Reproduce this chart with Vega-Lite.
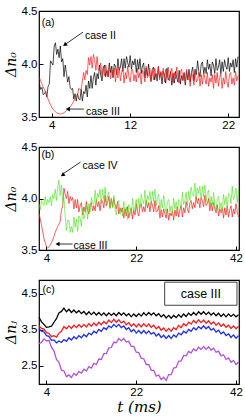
{
  "$schema": "https://vega.github.io/schema/vega-lite/v6.json",
  "background": "white",
  "padding": {"left": 3, "top": 4, "right": 5, "bottom": 2},
  "bounds": "flush",
  "spacing": 30,
  "config": {
    "view": {"stroke": "black", "strokeWidth": 1.2},
    "axis": {"grid": false, "domain": false, "labelFont": "Liberation Sans", "labelFontSize": 11.5, "labelColor": "black", "tickColor": "black", "tickSize": -4, "labelPadding": 6, "titleFont": "DejaVu Serif", "titleFontStyle": "italic", "titleFontWeight": "normal", "titleFontSize": 14, "titleColor": "black", "titlePadding": 3}
  },
  "vconcat": [
    {
      "width": 200, "height": 106,
      "data": {"values": [
        {"t":2.75,"k":3.81,"r":3.87},{"t":2.875,"k":3.76,"r":3.84},{"t":3.0,"k":3.78,"r":3.81},{"t":3.125,"k":3.71,"r":3.785},
        {"t":3.25,"k":3.72,"r":3.76},{"t":3.375,"k":3.74,"r":3.73},{"t":3.5,"k":3.69,"r":3.70},{"t":3.625,"k":3.79,"r":3.67},
        {"t":3.75,"k":3.81,"r":3.64},{"t":3.875,"k":4.03,"r":3.615},{"t":4.0,"k":4.01,"r":3.59},{"t":4.125,"k":3.99,"r":3.575},
        {"t":4.25,"k":4.17,"r":3.56},{"t":4.375,"k":4.20,"r":3.55},{"t":4.5,"k":4.09,"r":3.54},{"t":4.625,"k":4.14,"r":3.535},
        {"t":4.75,"k":4.06,"r":3.53},{"t":4.875,"k":4.17,"r":3.53},{"t":5.0,"k":4.02,"r":3.53},{"t":5.125,"k":4.05,"r":3.535},
        {"t":5.25,"k":3.88,"r":3.54},{"t":5.375,"k":3.99,"r":3.55},{"t":5.5,"k":3.91,"r":3.56},{"t":5.625,"k":3.83,"r":3.57},
        {"t":5.75,"k":3.88,"r":3.58},{"t":5.875,"k":3.78,"r":3.595},{"t":6.0,"k":3.76,"r":3.61},{"t":6.125,"k":3.77,"r":3.63},
        {"t":6.25,"k":3.67,"r":3.65},{"t":6.375,"k":3.72,"r":3.67},{"t":6.5,"k":3.65,"r":3.70},{"t":6.625,"k":3.72,"r":3.70},
        {"t":6.75,"k":3.67,"r":3.77},{"t":6.875,"k":3.66,"r":3.76},{"t":7.0,"k":3.76,"r":3.76},{"t":7.125,"k":3.65,"r":3.84},
        {"t":7.25,"k":3.74,"r":3.92},{"t":7.375,"k":3.72,"r":3.85},{"t":7.5,"k":3.80,"r":3.94},{"t":7.625,"k":3.69,"r":3.90},
        {"t":7.75,"k":3.84,"r":4.06},{"t":7.875,"k":3.77,"r":3.99},{"t":8.0,"k":3.89,"r":4.07},{"t":8.125,"k":3.77,"r":3.96},
        {"t":8.25,"k":3.87,"r":4.09},{"t":8.375,"k":3.92,"r":4.04},{"t":8.5,"k":3.80,"r":3.94},{"t":8.625,"k":3.91,"r":4.07},
        {"t":8.75,"k":3.86,"r":3.94},{"t":8.875,"k":3.99,"r":3.95},{"t":9.0,"k":3.89,"r":4.01},{"t":9.125,"k":3.84,"r":3.87},
        {"t":9.25,"k":3.96,"r":3.98},{"t":9.375,"k":3.99,"r":3.89},{"t":9.5,"k":3.88,"r":3.99},{"t":9.625,"k":3.94,"r":3.93},
        {"t":9.75,"k":3.88,"r":3.88},{"t":9.875,"k":4.01,"r":3.99},{"t":10.0,"k":3.92,"r":3.86},{"t":10.125,"k":3.98,"r":3.94},
        {"t":10.25,"k":3.87,"r":3.89},{"t":10.375,"k":4.00,"r":3.96},{"t":10.5,"k":3.98,"r":3.83},{"t":10.625,"k":3.90,"r":3.95},
        {"t":10.75,"k":4.05,"r":3.87},{"t":10.875,"k":3.94,"r":3.97},{"t":11.0,"k":3.97,"r":3.84},{"t":11.125,"k":4.05,"r":3.92},
        {"t":11.25,"k":3.93,"r":3.96},{"t":11.375,"k":4.05,"r":3.82},{"t":11.5,"k":3.96,"r":3.92},{"t":11.625,"k":4.07,"r":3.86},
        {"t":11.75,"k":4.01,"r":3.98},{"t":11.875,"k":3.97,"r":3.88},{"t":12.0,"k":4.08,"r":3.83},{"t":12.125,"k":3.95,"r":3.94},
        {"t":12.25,"k":4.03,"r":3.95},{"t":12.375,"k":3.99,"r":3.84},{"t":12.5,"k":4.05,"r":3.90},{"t":12.625,"k":3.92,"r":3.83},
        {"t":12.75,"k":4.04,"r":3.96},{"t":12.875,"k":3.95,"r":3.87},{"t":13.0,"k":4.05,"r":3.92},{"t":13.125,"k":3.91,"r":3.81},
        {"t":13.25,"k":3.98,"r":3.94},{"t":13.375,"k":4.01,"r":3.91},{"t":13.5,"k":3.87,"r":3.83},{"t":13.625,"k":3.96,"r":3.98},
        {"t":13.75,"k":3.89,"r":3.87},{"t":13.875,"k":4.00,"r":3.89},{"t":14.0,"k":3.90,"r":3.96},{"t":14.125,"k":3.84,"r":3.83},
        {"t":14.25,"k":3.95,"r":3.94},{"t":14.375,"k":3.97,"r":3.85},{"t":14.5,"k":3.85,"r":3.96},{"t":14.625,"k":3.91,"r":3.91},
        {"t":14.75,"k":3.84,"r":3.87},{"t":14.875,"k":3.97,"r":3.98},{"t":15.0,"k":3.87,"r":3.85},{"t":15.125,"k":3.92,"r":3.93},
        {"t":15.25,"k":3.81,"r":3.89},{"t":15.375,"k":3.93,"r":3.96},{"t":15.5,"k":3.90,"r":3.83},{"t":15.625,"k":3.82,"r":3.95},
        {"t":15.75,"k":3.96,"r":3.87},{"t":15.875,"k":3.85,"r":3.97},{"t":16.0,"k":3.87,"r":3.84},{"t":16.125,"k":3.93,"r":3.92},
        {"t":16.25,"k":3.80,"r":3.96},{"t":16.375,"k":3.91,"r":3.82},{"t":16.5,"k":3.82,"r":3.92},{"t":16.625,"k":3.93,"r":3.86},
        {"t":16.75,"k":3.87,"r":3.97},{"t":16.875,"k":3.83,"r":3.87},{"t":17.0,"k":3.94,"r":3.82},{"t":17.125,"k":3.81,"r":3.93},
        {"t":17.25,"k":3.89,"r":3.95},{"t":17.375,"k":3.85,"r":3.84},{"t":17.5,"k":3.92,"r":3.89},{"t":17.625,"k":3.80,"r":3.82},
        {"t":17.75,"k":3.93,"r":3.95},{"t":17.875,"k":3.85,"r":3.85},{"t":18.0,"k":3.95,"r":3.90},{"t":18.125,"k":3.83,"r":3.79},
        {"t":18.25,"k":3.92,"r":3.92},{"t":18.375,"k":3.97,"r":3.88},{"t":18.5,"k":3.84,"r":3.80},{"t":18.625,"k":3.95,"r":3.94},
        {"t":18.75,"k":3.90,"r":3.83},{"t":18.875,"k":4.03,"r":3.85},{"t":19.0,"k":3.93,"r":3.92},{"t":19.125,"k":3.88,"r":3.79},
        {"t":19.25,"k":4.00,"r":3.90},{"t":19.375,"k":4.02,"r":3.81},{"t":19.5,"k":3.91,"r":3.92},{"t":19.625,"k":3.97,"r":3.86},
        {"t":19.75,"k":3.91,"r":3.81},{"t":19.875,"k":4.04,"r":3.92},{"t":20.0,"k":3.95,"r":3.79},{"t":20.125,"k":4.00,"r":3.87},
        {"t":20.25,"k":3.89,"r":3.83},{"t":20.375,"k":4.02,"r":3.90},{"t":20.5,"k":3.99,"r":3.77},{"t":20.625,"k":3.91,"r":3.90},
        {"t":20.75,"k":4.05,"r":3.82},{"t":20.875,"k":3.94,"r":3.92},{"t":21.0,"k":3.97,"r":3.79},{"t":21.125,"k":4.04,"r":3.87},
        {"t":21.25,"k":3.91,"r":3.91},{"t":21.375,"k":4.02,"r":3.77},{"t":21.5,"k":3.93,"r":3.87},{"t":21.625,"k":4.04,"r":3.81},
        {"t":21.75,"k":3.98,"r":3.93},{"t":21.875,"k":3.95,"r":3.83},{"t":22.0,"k":4.06,"r":3.78},{"t":22.125,"k":3.93,"r":3.90},
        {"t":22.25,"k":4.01,"r":3.92},{"t":22.375,"k":3.97,"r":3.81},{"t":22.5,"k":4.04,"r":3.87},{"t":22.625,"k":3.92,"r":3.80},
        {"t":22.75,"k":4.05,"r":3.93},{"t":22.875,"k":3.97,"r":3.84},{"t":23.0,"k":4.07,"r":3.89}
      ]},
      "encoding": {
        "x": {"field": "t", "type": "quantitative", "scale": {"domain": [2.7, 23.1], "nice": false, "zero": false}, "axis": {"values": [4, 12, 22], "title": null}},
        "y": {"field": "v", "type": "quantitative", "scale": {"domain": [3.5, 4.5], "nice": false, "zero": false}, "axis": {"values": [3.5, 4.0, 4.5], "format": ".1f", "title": "Δn₀"}}
      },
      "layer": [
        {"transform": [{"fold": ["k"], "as": ["s", "v"]}], "mark": {"type": "line", "color": "black", "strokeWidth": 0.7}},
        {"transform": [{"fold": ["r"], "as": ["s", "v"]}], "mark": {"type": "line", "color": "#ff1a1a", "strokeWidth": 0.7}},
        {"data": {"values": [{"t": 7.18, "v": 4.30, "t2": 5.45, "v2": 4.19}, {"t": 7.28, "v": 3.575, "t2": 5.8, "v2": 3.575}]},
         "mark": {"type": "rule", "color": "black", "strokeWidth": 0.8},
         "encoding": {"x2": {"field": "t2"}, "y2": {"field": "v2"}}},
        {"data": {"values": [{"t": 5.33, "v": 4.18}]}, "mark": {"type": "point", "shape": "triangle-up", "filled": true, "size": 22, "angle": 234, "color": "black", "opacity": 1}},
        {"data": {"values": [{"t": 5.64, "v": 3.575}]}, "mark": {"type": "point", "shape": "triangle-up", "filled": true, "size": 22, "angle": 270, "color": "black", "opacity": 1}},
        {"data": {"values": [{"t": 7.38, "v": 4.264, "label": "case II"}, {"t": 7.49, "v": 3.547, "label": "case III"}, {"t": 2.97, "v": 4.39, "label": "(a)"}]},
         "mark": {"type": "text", "align": "left", "baseline": "middle", "font": "Liberation Sans", "fontSize": 10.5, "color": "black"},
         "encoding": {"text": {"field": "label"}}}
      ]
    },
    {
      "width": 200, "height": 103,
      "data": {"values": [
        {"t":2.5,"r":3.86,"g":3.95},{"t":2.75,"r":3.80,"g":3.89},{"t":3.0,"r":3.74,"g":3.98},{"t":3.25,"r":3.68,"g":3.95},
        {"t":3.5,"r":3.61,"g":3.93},{"t":3.75,"r":3.57,"g":4.02},{"t":4.0,"r":3.53,"g":3.94},{"t":4.25,"r":3.52,"g":3.99},
        {"t":4.5,"r":3.53,"g":3.96},{"t":4.75,"r":3.55,"g":4.02},{"t":5.0,"r":3.57,"g":3.93},{"t":5.25,"r":3.60,"g":4.04},
        {"t":5.5,"r":3.63,"g":4.00},{"t":5.75,"r":3.67,"g":4.09},{"t":6.0,"r":3.70,"g":3.98},{"t":6.25,"r":3.73,"g":4.10},
        {"t":6.5,"r":3.75,"g":4.18},{"t":6.75,"r":3.78,"g":4.03},{"t":7.0,"r":3.89,"g":4.13},{"t":7.25,"r":3.93,"g":3.97},
        {"t":7.5,"r":4.10,"g":4.01},{"t":7.75,"r":4.04,"g":3.83},{"t":8.0,"r":4.00,"g":3.69},{"t":8.25,"r":4.07,"g":3.79},
        {"t":8.5,"r":3.95,"g":3.79},{"t":8.75,"r":4.02,"g":3.67},{"t":9.0,"r":3.98,"g":3.73},{"t":9.25,"r":4.01,"g":3.67},
        {"t":9.5,"r":3.90,"g":3.82},{"t":9.75,"r":3.99,"g":3.72},{"t":10.0,"r":3.91,"g":3.80},{"t":10.25,"r":3.99,"g":3.68},
        {"t":10.5,"r":3.87,"g":3.83},{"t":10.75,"r":3.93,"g":3.81},{"t":11.0,"r":3.96,"g":3.73},{"t":11.25,"r":3.84,"g":3.91},
        {"t":11.5,"r":3.92,"g":3.80},{"t":11.75,"r":3.87,"g":3.85},{"t":12.0,"r":3.97,"g":3.93},{"t":12.25,"r":3.89,"g":3.80},
        {"t":12.5,"r":3.85,"g":3.95},{"t":12.75,"r":3.94,"g":3.87},{"t":13.0,"r":3.96,"g":4.01},{"t":13.25,"r":3.88,"g":3.96},
        {"t":13.5,"r":3.93,"g":3.94},{"t":13.75,"r":3.88,"g":4.08},{"t":14.0,"r":3.99,"g":3.96},{"t":14.25,"r":3.92,"g":4.05},
        {"t":14.5,"r":3.97,"g":4.01},{"t":14.75,"r":3.88,"g":4.09},{"t":15.0,"r":3.99,"g":3.95},{"t":15.25,"r":3.97,"g":4.09},
        {"t":15.5,"r":3.91,"g":3.99},{"t":15.75,"r":4.03,"g":4.11},{"t":16.0,"r":3.93,"g":3.95},{"t":16.25,"r":3.96,"g":4.03},
        {"t":16.5,"r":4.02,"g":4.06},{"t":16.75,"r":3.91,"g":3.90},{"t":17.0,"r":4.00,"g":4.00},{"t":17.25,"r":3.92,"g":3.91},
        {"t":17.5,"r":4.00,"g":4.03},{"t":17.75,"r":3.94,"g":3.91},{"t":18.0,"r":3.90,"g":3.84},{"t":18.25,"r":3.97,"g":3.96},
        {"t":18.5,"r":3.85,"g":3.98},{"t":18.75,"r":3.91,"g":3.85},{"t":19.0,"r":3.87,"g":3.91},{"t":19.25,"r":3.91,"g":3.83},
        {"t":19.5,"r":3.81,"g":3.97},{"t":19.75,"r":3.90,"g":3.86},{"t":20.0,"r":3.83,"g":3.92},{"t":20.25,"r":3.92,"g":3.80},
        {"t":20.5,"r":3.81,"g":3.94},{"t":20.75,"r":3.87,"g":3.91},{"t":21.0,"r":3.91,"g":3.83},{"t":21.25,"r":3.80,"g":4.00},
        {"t":21.5,"r":3.89,"g":3.88},{"t":21.75,"r":3.84,"g":3.92},{"t":22.0,"r":3.95,"g":3.99},{"t":22.25,"r":3.87,"g":3.86},
        {"t":22.5,"r":3.83,"g":4.00},{"t":22.75,"r":3.93,"g":3.91},{"t":23.0,"r":3.95,"g":4.04},{"t":23.25,"r":3.87,"g":3.98},
        {"t":23.5,"r":3.92,"g":3.95},{"t":23.75,"r":3.87,"g":4.08},{"t":24.0,"r":3.98,"g":3.94},{"t":24.25,"r":3.91,"g":4.03},
        {"t":24.5,"r":3.96,"g":3.99},{"t":24.75,"r":3.87,"g":4.07},{"t":25.0,"r":3.97,"g":3.93},{"t":25.25,"r":3.94,"g":4.07},
        {"t":25.5,"r":3.87,"g":3.97},{"t":25.75,"r":3.98,"g":4.09},{"t":26.0,"r":3.87,"g":3.93},{"t":26.25,"r":3.88,"g":4.01},
        {"t":26.5,"r":3.93,"g":4.04},{"t":26.75,"r":3.81,"g":3.88},{"t":27.0,"r":3.89,"g":3.99},{"t":27.25,"r":3.82,"g":3.91},
        {"t":27.5,"r":3.90,"g":4.03},{"t":27.75,"r":3.85,"g":3.92},{"t":28.0,"r":3.81,"g":3.85},{"t":28.25,"r":3.90,"g":3.97},
        {"t":28.5,"r":3.79,"g":3.99},{"t":28.75,"r":3.86,"g":3.87},{"t":29.0,"r":3.83,"g":3.93},{"t":29.25,"r":3.88,"g":3.86},
        {"t":29.5,"r":3.79,"g":4.00},{"t":29.75,"r":3.89,"g":3.90},{"t":30.0,"r":3.83,"g":3.97},{"t":30.25,"r":3.92,"g":3.85},
        {"t":30.5,"r":3.82,"g":3.99},{"t":30.75,"r":3.89,"g":3.97},{"t":31.0,"r":3.93,"g":3.89},{"t":31.25,"r":3.82,"g":4.06},
        {"t":31.5,"r":3.91,"g":3.94},{"t":31.75,"r":3.86,"g":3.98},{"t":32.0,"r":3.97,"g":4.06},{"t":32.25,"r":3.90,"g":3.93},
        {"t":32.5,"r":3.86,"g":4.07},{"t":32.75,"r":3.96,"g":3.98},{"t":33.0,"r":3.98,"g":4.11},{"t":33.25,"r":3.90,"g":4.05},
        {"t":33.5,"r":3.96,"g":4.02},{"t":33.75,"r":3.91,"g":4.15},{"t":34.0,"r":4.02,"g":4.01},{"t":34.25,"r":3.95,"g":4.10},
        {"t":34.5,"r":4.00,"g":4.05},{"t":34.75,"r":3.91,"g":4.12},{"t":35.0,"r":4.01,"g":3.98},{"t":35.25,"r":3.98,"g":4.12},
        {"t":35.5,"r":3.92,"g":4.02},{"t":35.75,"r":4.03,"g":4.13},{"t":36.0,"r":3.93,"g":3.97},{"t":36.25,"r":3.95,"g":4.05},
        {"t":36.5,"r":4.00,"g":4.08},{"t":36.75,"r":3.88,"g":3.92},{"t":37.0,"r":3.96,"g":4.02},{"t":37.25,"r":3.88,"g":3.94},
        {"t":37.5,"r":3.96,"g":4.06},{"t":37.75,"r":3.90,"g":3.94},{"t":38.0,"r":3.86,"g":3.87},{"t":38.25,"r":3.94,"g":4.00},
        {"t":38.5,"r":3.83,"g":4.02},{"t":38.75,"r":3.90,"g":3.90},{"t":39.0,"r":3.86,"g":3.96},{"t":39.25,"r":3.91,"g":3.89},
        {"t":39.5,"r":3.81,"g":4.04},{"t":39.75,"r":3.91,"g":3.94},{"t":40.0,"r":3.84,"g":4.02},{"t":40.25,"r":3.93,"g":3.90},
        {"t":40.5,"r":3.82,"g":4.05},{"t":40.75,"r":3.89,"g":4.03},{"t":41.0,"r":3.93,"g":3.95},{"t":41.25,"r":3.82,"g":4.12},
        {"t":41.5,"r":3.90,"g":3.99},{"t":41.75,"r":3.85,"g":4.03},{"t":42.0,"r":3.95,"g":4.10},{"t":42.25,"r":3.87,"g":3.96},
        {"t":42.5,"r":3.82,"g":4.09}
      ]},
      "encoding": {
        "x": {"field": "t", "type": "quantitative", "scale": {"domain": [2.5, 42.6], "nice": false, "zero": false}, "axis": {"values": [4, 22, 42], "title": null}},
        "y": {"field": "v", "type": "quantitative", "scale": {"domain": [3.5, 4.5], "nice": false, "zero": false}, "axis": {"values": [3.5, 4.0, 4.5], "format": ".1f", "title": "Δn₀"}}
      },
      "layer": [
        {"transform": [{"fold": ["r"], "as": ["s", "v"]}], "mark": {"type": "line", "color": "#ff1a1a", "strokeWidth": 0.7}},
        {"transform": [{"fold": ["g"], "as": ["s", "v"]}], "mark": {"type": "line", "color": "#44e010", "strokeWidth": 0.7, "opacity": 0.85}},
        {"data": {"values": [{"t": 10.84, "v": 4.354, "t2": 7.5, "v2": 4.245}, {"t": 9.23, "v": 3.558, "t2": 6.5, "v2": 3.558}]},
         "mark": {"type": "rule", "color": "black", "strokeWidth": 0.8},
         "encoding": {"x2": {"field": "t2"}, "y2": {"field": "v2"}}},
        {"data": {"values": [{"t": 7.22, "v": 4.228}]}, "mark": {"type": "point", "shape": "triangle-up", "filled": true, "size": 22, "angle": 236, "color": "black", "opacity": 1}},
        {"data": {"values": [{"t": 6.21, "v": 3.558}]}, "mark": {"type": "point", "shape": "triangle-up", "filled": true, "size": 22, "angle": 270, "color": "black", "opacity": 1}},
        {"data": {"values": [{"t": 11.24, "v": 4.316, "label": "case IV"}, {"t": 9.43, "v": 3.54, "label": "case III"}, {"t": 3.0, "v": 4.42, "label": "(b)"}]},
         "mark": {"type": "text", "align": "left", "baseline": "middle", "font": "Liberation Sans", "fontSize": 10.5, "color": "black"},
         "encoding": {"text": {"field": "label"}}}
      ]
    },
    {
      "width": 200, "height": 104,
      "data": {"values": [
        {"t":2.5,"k":3.85,"r":3.61,"b":3.53,"p":3.12},{"t":3.0,"k":3.72,"r":3.54,"b":3.46,"p":3.15},{"t":3.5,"k":3.65,"r":3.52,"b":3.44,"p":3.25},
        {"t":4.0,"k":3.57,"r":3.42,"b":3.34,"p":3.19},{"t":4.5,"k":3.58,"r":3.40,"b":3.32,"p":3.21},{"t":5.0,"k":3.60,"r":3.31,"b":3.21,"p":3.02},
        {"t":5.5,"k":3.71,"r":3.34,"b":3.22,"p":2.91},{"t":6.0,"k":3.81,"r":3.30,"b":3.14,"p":2.68},{"t":6.5,"k":3.97,"r":3.41,"b":3.19,"p":2.60},
        {"t":7.0,"k":4.01,"r":3.46,"b":3.15,"p":2.38},{"t":7.5,"k":4.10,"r":3.59,"b":3.23,"p":2.36},{"t":8.0,"k":4.00,"r":3.53,"b":3.18,"p":2.20},
        {"t":8.5,"k":4.07,"r":3.61,"b":3.28,"p":2.25},{"t":9.0,"k":3.98,"r":3.54,"b":3.22,"p":2.18},{"t":9.5,"k":4.05,"r":3.63,"b":3.31,"p":2.29},
        {"t":10.0,"k":3.97,"r":3.56,"b":3.25,"p":2.24},{"t":10.5,"k":4.03,"r":3.64,"b":3.34,"p":2.35},{"t":11.0,"k":3.95,"r":3.57,"b":3.28,"p":2.30},
        {"t":11.5,"k":4.01,"r":3.65,"b":3.37,"p":2.41},{"t":12.0,"k":3.92,"r":3.58,"b":3.31,"p":2.36},{"t":12.5,"k":4.00,"r":3.67,"b":3.41,"p":2.48},
        {"t":13.0,"k":3.92,"r":3.60,"b":3.36,"p":2.44},{"t":13.5,"k":3.99,"r":3.69,"b":3.46,"p":2.57},{"t":14.0,"k":3.91,"r":3.62,"b":3.41,"p":2.54},
        {"t":14.5,"k":3.98,"r":3.71,"b":3.51,"p":2.69},{"t":15.0,"k":3.90,"r":3.64,"b":3.46,"p":2.68},{"t":15.5,"k":3.97,"r":3.73,"b":3.56,"p":2.84},
        {"t":16.0,"k":3.89,"r":3.67,"b":3.51,"p":2.84},{"t":16.5,"k":3.97,"r":3.77,"b":3.61,"p":3.00},{"t":17.0,"k":3.90,"r":3.70,"b":3.56,"p":3.01},
        {"t":17.5,"k":3.96,"r":3.79,"b":3.65,"p":3.16},{"t":18.0,"k":3.89,"r":3.71,"b":3.58,"p":3.14},{"t":18.5,"k":3.98,"r":3.78,"b":3.65,"p":3.26},
        {"t":19.0,"k":3.91,"r":3.69,"b":3.56,"p":3.20},{"t":19.5,"k":3.97,"r":3.74,"b":3.61,"p":3.26},{"t":20.0,"k":3.89,"r":3.64,"b":3.51,"p":3.16},
        {"t":20.5,"k":3.95,"r":3.70,"b":3.56,"p":3.18},{"t":21.0,"k":3.86,"r":3.60,"b":3.45,"p":3.04},{"t":21.5,"k":3.94,"r":3.67,"b":3.51,"p":3.04},
        {"t":22.0,"k":3.87,"r":3.58,"b":3.41,"p":2.88},{"t":22.5,"k":3.95,"r":3.66,"b":3.48,"p":2.87},{"t":23.0,"k":3.88,"r":3.58,"b":3.40,"p":2.71},
        {"t":23.5,"k":3.97,"r":3.67,"b":3.48,"p":2.70},{"t":24.0,"k":3.90,"r":3.59,"b":3.40,"p":2.54},{"t":24.5,"k":3.98,"r":3.66,"b":3.47,"p":2.54},
        {"t":25.0,"k":3.91,"r":3.57,"b":3.38,"p":2.38},{"t":25.5,"k":3.97,"r":3.63,"b":3.43,"p":2.38},{"t":26.0,"k":3.89,"r":3.53,"b":3.33,"p":2.22},
        {"t":26.5,"k":3.95,"r":3.59,"b":3.39,"p":2.25},{"t":27.0,"k":3.86,"r":3.49,"b":3.29,"p":2.12},{"t":27.5,"k":3.92,"r":3.55,"b":3.35,"p":2.19},
        {"t":28.0,"k":3.83,"r":3.46,"b":3.26,"p":2.10},{"t":28.5,"k":3.90,"r":3.54,"b":3.34,"p":2.26},{"t":29.0,"k":3.82,"r":3.46,"b":3.26,"p":2.26},
        {"t":29.5,"k":3.90,"r":3.56,"b":3.36,"p":2.44},{"t":30.0,"k":3.84,"r":3.51,"b":3.30,"p":2.46},{"t":30.5,"k":3.92,"r":3.62,"b":3.41,"p":2.63},
        {"t":31.0,"k":3.85,"r":3.56,"b":3.36,"p":2.64},{"t":31.5,"k":3.94,"r":3.67,"b":3.46,"p":2.79},{"t":32.0,"k":3.87,"r":3.61,"b":3.41,"p":2.78},
        {"t":32.5,"k":3.96,"r":3.71,"b":3.51,"p":2.90},{"t":33.0,"k":3.90,"r":3.66,"b":3.46,"p":2.86},{"t":33.5,"k":3.98,"r":3.76,"b":3.56,"p":2.97},
        {"t":34.0,"k":3.91,"r":3.69,"b":3.50,"p":2.92},{"t":34.5,"k":4.00,"r":3.78,"b":3.59,"p":3.02},{"t":35.0,"k":3.93,"r":3.70,"b":3.53,"p":2.96},
        {"t":35.5,"k":4.00,"r":3.77,"b":3.61,"p":3.04},{"t":36.0,"k":3.92,"r":3.68,"b":3.53,"p":2.96},{"t":36.5,"k":3.99,"r":3.75,"b":3.59,"p":3.03},
        {"t":37.0,"k":3.91,"r":3.66,"b":3.49,"p":2.94},{"t":37.5,"k":3.97,"r":3.72,"b":3.54,"p":2.99},{"t":38.0,"k":3.89,"r":3.63,"b":3.44,"p":2.88},
        {"t":38.5,"k":3.96,"r":3.69,"b":3.49,"p":2.91},{"t":39.0,"k":3.87,"r":3.60,"b":3.39,"p":2.78},{"t":39.5,"k":3.94,"r":3.66,"b":3.44,"p":2.81},
        {"t":40.0,"k":3.86,"r":3.57,"b":3.34,"p":2.68},{"t":40.5,"k":3.94,"r":3.63,"b":3.39,"p":2.72},{"t":41.0,"k":3.87,"r":3.54,"b":3.29,"p":2.60},
        {"t":41.5,"k":3.93,"r":3.61,"b":3.36,"p":2.65},{"t":42.0,"k":3.86,"r":3.53,"b":3.27,"p":2.54},{"t":42.5,"k":3.92,"r":3.60,"b":3.34,"p":2.60}
      ]},
      "encoding": {
        "x": {"field": "t", "type": "quantitative", "scale": {"domain": [2.5, 42.6], "nice": false, "zero": false}, "axis": {"values": [4, 22, 42], "title": "t (ms)", "titleFontSize": 15, "titlePadding": 2}},
        "y": {"field": "v", "type": "quantitative", "scale": {"domain": [2.0, 4.88], "nice": false, "zero": false}, "axis": {"values": [2.5, 3.5, 4.5], "format": ".1f", "title": "Δnⱼ"}}
      },
      "layer": [
        {"transform": [{"fold": ["p"], "as": ["s", "v"]}], "mark": {"type": "line", "color": "#b44ee8", "strokeWidth": 1.3}},
        {"transform": [{"fold": ["b"], "as": ["s", "v"]}], "mark": {"type": "line", "color": "#1a2bff", "strokeWidth": 1.3}},
        {"transform": [{"fold": ["r"], "as": ["s", "v"]}], "mark": {"type": "line", "color": "#ff1a1a", "strokeWidth": 1.3}},
        {"transform": [{"fold": ["k"], "as": ["s", "v"]}], "mark": {"type": "line", "color": "black", "strokeWidth": 1.3}},
        {"data": {"values": [{"t": 27.7, "v": 4.82, "t2": 42.2, "v2": 4.18}]},
         "mark": {"type": "rect", "fill": "white", "stroke": "#444444", "strokeWidth": 1},
         "encoding": {"x2": {"field": "t2"}, "y2": {"field": "v2"}}},
        {"data": {"values": [{"t": 34.95, "v": 4.5, "label": "case III"}]},
         "mark": {"type": "text", "align": "center", "baseline": "middle", "font": "Liberation Sans", "fontSize": 12.5, "color": "black"},
         "encoding": {"text": {"field": "label"}}},
        {"data": {"values": [{"t": 3.2, "v": 4.6, "label": "(c)"}]},
         "mark": {"type": "text", "align": "left", "baseline": "middle", "font": "Liberation Sans", "fontSize": 10.5, "color": "black"},
         "encoding": {"text": {"field": "label"}}}
      ]
    }
  ]
}
